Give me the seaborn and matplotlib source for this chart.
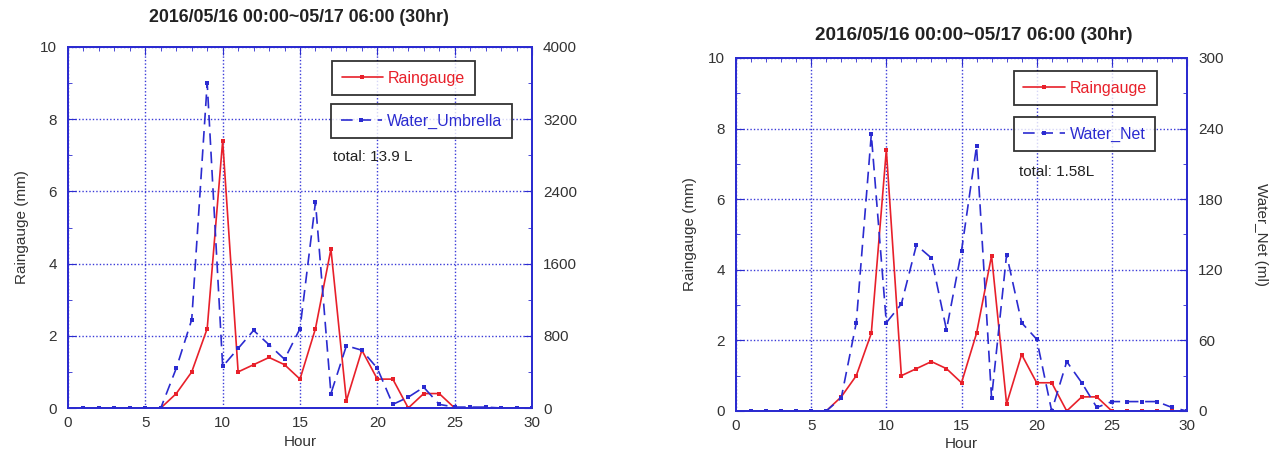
import numpy as np
import pandas as pd
import matplotlib
matplotlib.use("Agg")
import matplotlib.pyplot as plt
from matplotlib.ticker import MultipleLocator
import seaborn as sns

# ---------------- data ----------------
hours = list(range(1, 31))
raingauge = [0, 0, 0, 0, 0, 0, 0.4, 1.0, 2.2, 7.4, 1.0, 1.2, 1.4, 1.2, 0.8,
             2.2, 4.4, 0.2, 1.6, 0.8, 0.8, 0.0, 0.4, 0.4, 0, 0, 0, 0, 0, 0]
water_umbrella = [0, 0, 0, 0, 0, 0, 440, 980, 3600, 460, 660, 860, 700, 540, 880,
                  2280, 160, 690, 640, 440, 40, 120, 230, 40, 10, 10, 10, 0, 0, 0]
water_net = [0, 0, 0, 0, 0, 0, 11, 75, 235, 75, 91, 141, 130, 69, 136,
             225, 11, 133, 75, 61, 0, 42, 24, 3, 8, 8, 8, 8, 3, 0]

title = "2016/05/16 00:00~05/17 06:00 (30hr)"

df = pd.DataFrame({"Hour": hours, "Raingauge": raingauge,
                   "Water_Umbrella": water_umbrella, "Water_Net": water_net})

sns.set_style("white")
plt.rcParams["font.family"] = ["Liberation Sans", "DejaVu Sans"]

BLUE = "#2b2bd0"
RED = "#e8202a"
GRID = "#3a3ad8"

fig = plt.figure(figsize=(12.82, 4.68), dpi=100)

panels = [
    # name, right max, right step, axes rect, legend anchors, total text, right label, title pos/size
    ("Water_Umbrella", 4000, 800, [68/1282, 1-408/468, 464/1282, 361/468],
     (0.569, 0.961), (0.567, 0.842), (0.571, 0.695), "total: 13.9 L", None,
     (299, 18), 12.8),
    ("Water_Net", 300, 60, [736/1282, 1-411/468, 451/1282, 353/468],
     (0.616, 0.963), (0.616, 0.833), (0.628, 0.677), "total: 1.58L", "Water_Net (ml)",
     (974, 36), 13.6),
]

for name, rmax, rstep, rect, leg1, leg2, tpos, ttxt, rlabel, titpos, tsize in panels:
    ax = fig.add_axes(rect)
    ax2 = ax.twinx()

    sns.lineplot(data=df, x="Hour", y="Raingauge", ax=ax, color=RED, lw=1.2,
                 marker="s", markersize=3.5, markeredgewidth=0, label="Raingauge",
                 legend=False)
    sns.lineplot(data=df, x="Hour", y=name, ax=ax2, color=BLUE, lw=1.2,
                 marker="s", markersize=3.5, markeredgewidth=0, label=name,
                 legend=False, linestyle=(0, (7, 4)))

    ax.set_xlim(0, 30)
    ax.set_ylim(0, 10)
    ax2.set_ylim(0, rmax)
    ax.xaxis.set_major_locator(MultipleLocator(5))
    ax.xaxis.set_minor_locator(MultipleLocator(1))
    ax.yaxis.set_major_locator(MultipleLocator(2))
    ax.yaxis.set_minor_locator(MultipleLocator(1))
    ax2.yaxis.set_major_locator(MultipleLocator(rstep))
    ax2.yaxis.set_minor_locator(MultipleLocator(rstep / 2))

    ax.grid(True, which="major", color=GRID, linestyle=(0, (1, 1.5)), lw=1.0)
    ax.set_axisbelow(True)
    for a in (ax, ax2):
        for sp in a.spines.values():
            sp.set_color(BLUE)
            sp.set_linewidth(1.3)
        a.tick_params(which="both", direction="in", color=BLUE, labelsize=11,
                      labelcolor="#333333")
        a.tick_params(which="major", length=6)
        a.tick_params(which="minor", length=3)
    ax.tick_params(axis="x", which="both", top=True, pad=6)
    ax.tick_params(axis="y", pad=8)
    ax2.tick_params(axis="y", pad=8)

    ax.set_xlabel("Hour", fontsize=11, color="#333333", labelpad=3)
    ax.set_ylabel("Raingauge (mm)", fontsize=11, color="#333333", labelpad=8)
    ax2.set_ylabel(rlabel if rlabel else "", fontsize=11, color="#333333",
                   rotation=270, labelpad=32)

    h1, l1 = ax.get_legend_handles_labels()
    h2, l2 = ax2.get_legend_handles_labels()
    lg1 = ax.legend(h1, l1, loc="upper left", bbox_to_anchor=leg1, fontsize=11.5,
                    frameon=True, fancybox=False, edgecolor="black", labelcolor=RED,
                    handlelength=2.6, borderpad=0.6, handletextpad=0.3,
                    borderaxespad=0)
    lg1.get_frame().set_linewidth(1.3)
    lg2 = ax2.legend(h2, l2, loc="upper left", bbox_to_anchor=leg2, fontsize=11.5,
                     frameon=True, fancybox=False, edgecolor="black", labelcolor=BLUE,
                     handlelength=2.6, borderpad=0.6, handletextpad=0.3,
                     borderaxespad=0)
    lg2.get_frame().set_linewidth(1.3)
    ax2.text(tpos[0], tpos[1], ttxt, transform=ax.transAxes, fontsize=11,
             color="#222222", va="center", ha="left")

    fig.text(titpos[0] / 1282, 1 - titpos[1] / 468, title, ha="center", va="center",
             fontsize=tsize, fontweight="bold", color="#222222")

fig.savefig("out.png", dpi=100)
